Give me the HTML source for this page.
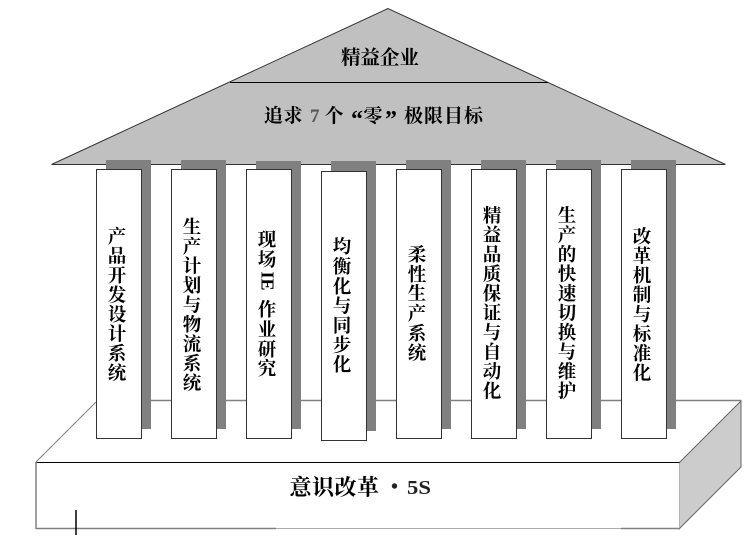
<!DOCTYPE html>
<html><head><meta charset="utf-8"><style>
html,body{margin:0;padding:0;background:#fff}
svg{display:block}
text{font-family:"Liberation Serif","Noto Serif CJK SC",serif;font-weight:bold;fill:#000}
.v{font-size:18.5px;text-anchor:middle}
</style></head><body>
<svg width="750" height="559" viewBox="0 0 750 559" xmlns="http://www.w3.org/2000/svg">
<polygon points="388,8.5 51.5,164.5 725.5,164.5" fill="#c0c0c0" stroke="#333" stroke-width="1"/>
<line x1="230" y1="82.5" x2="548" y2="82.5" stroke="#000" stroke-width="1"/>
<text font-size="19.500" x="341 360.500 380 399.500" y="64">精益企业</text>
<text font-size="19" x="264 283.500" y="122">追求</text>
<text font-size="19" x="310" y="122" style="fill:#555">7</text>
<text font-size="19" x="324.500" y="122">个</text>
<text font-size="24" x="351" y="127">“</text>
<text font-size="19" x="363.500" y="122">零</text>
<text font-size="24" x="385" y="127">”</text>
<text font-size="19" x="404 424 444 464" y="122">极限目标</text>

<polygon points="36.5,462.5 96,402 741,400.5 679.5,462.5" fill="#fff"/>
<line x1="36" y1="462" x2="96" y2="402" stroke="#808080" stroke-width="1"/>
<line x1="96" y1="400.500" x2="741" y2="400.500" stroke="#808080" stroke-width="1.500"/>
<polygon points="679.5,462.5 741,401 741,467 679.5,528.5" fill="#ccc" stroke="#666" stroke-width="1"/>
<rect x="36" y="462.500" width="643.500" height="66" fill="#fff"/>
<line x1="36" y1="462.500" x2="679.500" y2="462.500" stroke="#000" stroke-width="1"/>
<line x1="36" y1="462" x2="36" y2="529" stroke="#808080" stroke-width="1.500"/>
<line x1="36" y1="528.500" x2="276" y2="528.500" stroke="#808080" stroke-width="1.500"/>
<line x1="276" y1="528.500" x2="621" y2="528.500" stroke="#aaa" stroke-width="1"/>
<line x1="621" y1="528.500" x2="680" y2="528.500" stroke="#808080" stroke-width="1.500"/>
<line x1="76" y1="510" x2="76" y2="535" stroke="#000" stroke-width="1.500"/>
<text font-size="22" x="289.500 312 334.500 357" y="495">意识改革</text>
<circle cx="394.500" cy="486" r="2.700" fill="#222"/>
<text font-size="20" x="407" y="494" textLength="24" lengthAdjust="spacingAndGlyphs" style="fill:#222">5S</text>

<g fill="#808080">
<rect x="106" y="160" width="45" height="269"/>
<rect x="181" y="160" width="45" height="269"/>
<rect x="256" y="161" width="45" height="268"/>
<rect x="331" y="161" width="45" height="270"/>
<rect x="406" y="160" width="45" height="269"/>
<rect x="481" y="160" width="45" height="269"/>
<rect x="556" y="160" width="45" height="269"/>
<rect x="631" y="160" width="45" height="269"/>
</g>
<g fill="#fff" stroke="#333" stroke-width="1">
<rect x="96.500" y="169.500" width="45" height="269"/>
<rect x="171.500" y="169.500" width="45" height="269"/>
<rect x="246.500" y="169.500" width="45" height="269"/>
<rect x="321.500" y="171.500" width="45" height="269"/>
<rect x="396.500" y="169.500" width="45" height="269"/>
<rect x="471.500" y="169.500" width="45" height="269"/>
<rect x="546.500" y="169.500" width="45" height="269"/>
<rect x="621.500" y="169.500" width="45" height="269"/>
</g>

<text class="v" x="117" y="243">产</text><text class="v" x="117" y="262.500">品</text><text class="v" x="117" y="282">开</text><text class="v" x="117" y="301.500">发</text><text class="v" x="117" y="321">设</text><text class="v" x="117" y="340.500">计</text><text class="v" x="117" y="360">系</text><text class="v" x="117" y="379.500">统</text>

<text class="v" x="192" y="233.500">生</text><text class="v" x="192" y="253">产</text><text class="v" x="192" y="272.500">计</text><text class="v" x="192" y="292">划</text><text class="v" x="192" y="311.500">与</text><text class="v" x="192" y="331">物</text><text class="v" x="192" y="350.500">流</text><text class="v" x="192" y="370">系</text><text class="v" x="192" y="389.500">统</text>

<text class="v" x="267" y="246">现</text><text class="v" x="267" y="266">场</text>
<text font-size="18" text-anchor="middle" transform="translate(261.500,281) rotate(90)">IE</text>
<text class="v" x="267" y="316">作</text><text class="v" x="267" y="336">业</text><text class="v" x="267" y="356">研</text><text class="v" x="267" y="375">究</text>

<text class="v" x="342" y="253">均</text><text class="v" x="342" y="273">衡</text><text class="v" x="342" y="293">化</text><text class="v" x="342" y="312.500">与</text><text class="v" x="342" y="332">同</text><text class="v" x="342" y="351.500">步</text><text class="v" x="342" y="371">化</text>

<text class="v" x="417" y="261">柔</text><text class="v" x="417" y="281">性</text><text class="v" x="417" y="300">生</text><text class="v" x="417" y="320">产</text><text class="v" x="417" y="340">系</text><text class="v" x="417" y="359.500">统</text>

<text class="v" x="492" y="222">精</text><text class="v" x="492" y="241.500">益</text><text class="v" x="492" y="261">品</text><text class="v" x="492" y="280.500">质</text><text class="v" x="492" y="300">保</text><text class="v" x="492" y="319.500">证</text><text class="v" x="492" y="339">与</text><text class="v" x="492" y="358.500">自</text><text class="v" x="492" y="378">动</text><text class="v" x="492" y="397.500">化</text>

<text class="v" x="567" y="222">生</text><text class="v" x="567" y="241.500">产</text><text class="v" x="567" y="261">的</text><text class="v" x="567" y="280.500">快</text><text class="v" x="567" y="300">速</text><text class="v" x="567" y="319.500">切</text><text class="v" x="567" y="339">换</text><text class="v" x="567" y="358.500">与</text><text class="v" x="567" y="378">维</text><text class="v" x="567" y="397.500">护</text>

<text class="v" x="642" y="243">改</text><text class="v" x="642" y="262.500">革</text><text class="v" x="642" y="282">机</text><text class="v" x="642" y="301.500">制</text><text class="v" x="642" y="321">与</text><text class="v" x="642" y="340.500">标</text><text class="v" x="642" y="360">准</text><text class="v" x="642" y="379.500">化</text>
</svg>
</body></html>
